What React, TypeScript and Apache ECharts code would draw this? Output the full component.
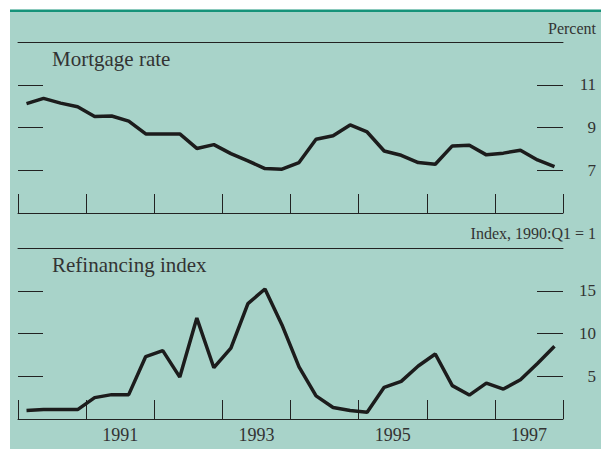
import React, { useEffect, useRef } from "react";
import * as echarts from "echarts";

const years = ["1990", "1991", "1992", "1993", "1994", "1995", "1996", "1997"];
const quarters: string[] = [];
years.forEach((y) => ["Q1", "Q2", "Q3", "Q4"].forEach((q) => quarters.push(`${y}:${q}`)));

const mortgageRate = [
  10.12, 10.36, 10.14, 9.97, 9.51, 9.54, 9.3, 8.7, 8.7, 8.7, 8.02, 8.2, 7.78, 7.44, 7.08, 7.05,
  7.36, 8.45, 8.61, 9.12, 8.79, 7.9, 7.7, 7.36, 7.28, 8.14, 8.17, 7.72, 7.8, 7.94, 7.48, 7.17,
];
const refiIndex = [
  1.0, 1.1, 1.1, 1.1, 2.5, 2.85, 2.85, 7.3, 8.0, 4.9, 11.8, 6.0, 8.3, 13.5, 15.2, 11.0,
  6.1, 2.7, 1.35, 1.0, 0.8, 3.7, 4.4, 6.2, 7.6, 3.9, 2.8, 4.2, 3.5, 4.6, 6.5, 8.5,
];
const rateTicks = [7, 9, 11];
const refiTicks = [5, 10, 15];
const yearLabelYears = ["1991", "1993", "1995", "1997"];

const FONT = "Liberation Serif";
const BG = "#a8d3c9";
const INK = "#222";

export default function App() {
  const ref = useRef<HTMLDivElement>(null);
  useEffect(() => {
    document.body.style.margin = "0";
    const chart = echarts.init(ref.current!, null, { renderer: "svg" });
    const nQ = quarters.length;
    const yearTickPos: number[] = [];
    for (let i = 0; i <= nQ; i += 4) yearTickPos.push(i);
    const labelPos = yearLabelYears.map((y) => quarters.indexOf(`${y}:Q1`) + 2);

    const bottomX = (gridIndex: number, showLabels: boolean) => ({
      type: "value",
      gridIndex,
      min: 0,
      max: nQ,
      position: "bottom",
      axisLine: { show: true, onZero: false, lineStyle: { color: INK, width: 1 } },
      axisTick: {
        show: true,
        inside: true,
        length: 19,
        customValues: yearTickPos,
        lineStyle: { color: INK, width: 1 },
      },
      axisLabel: showLabels
        ? {
            show: true,
            customValues: labelPos,
            formatter: (v: number) => years[Math.floor(v / 4)],
            fontFamily: FONT,
            fontSize: 18,
            color: "#333",
            margin: 7,
          }
        : { show: false },
      splitLine: { show: false },
    });
    const topX = (gridIndex: number) => ({
      type: "value",
      gridIndex,
      min: 0,
      max: nQ,
      position: "top",
      axisLine: { show: true, onZero: false, lineStyle: { color: INK, width: 1 } },
      axisTick: { show: false },
      axisLabel: { show: false },
      splitLine: { show: false },
    });
    const rightY = (gridIndex: number, min: number, max: number, ticks: number[]) => ({
      type: "value",
      gridIndex,
      min,
      max,
      position: "right",
      axisLine: { show: false, onZero: false },
      axisTick: {
        show: true,
        inside: true,
        length: 26,
        customValues: ticks,
        lineStyle: { color: INK, width: 1 },
      },
      axisLabel: {
        show: true,
        customValues: ticks,
        align: "right",
        margin: 33,
        fontFamily: FONT,
        fontSize: 17,
        color: "#333",
      },
      splitLine: { show: false },
    });
    const leftY = (gridIndex: number, min: number, max: number, ticks: number[]) => ({
      type: "value",
      gridIndex,
      min,
      max,
      position: "left",
      axisLine: { show: false, onZero: false },
      axisTick: {
        show: true,
        inside: true,
        length: 25,
        customValues: ticks,
        lineStyle: { color: INK, width: 1 },
      },
      axisLabel: { show: false },
      splitLine: { show: false },
    });

    const lineStyle = { color: "#1c1c1c", width: 3.5 };
    const titleText = (text: string, top: number, opts: any) => ({
      text,
      top,
      ...opts,
      padding: 0,
      textStyle: { fontFamily: FONT, fontWeight: "normal", color: "#333", ...(opts.textStyle || {}) },
    });

    chart.setOption({
      animation: false,
      graphic: [
        { type: "rect", z: -100, shape: { x: 10, y: 10, width: 591, height: 439 }, style: { fill: BG } },
        { type: "rect", z: -99, shape: { x: 10, y: 9.5, width: 591, height: 2.5 }, style: { fill: "#16937a" } },
      ],
      title: [
        titleText("Percent", 20, { right: 5, textStyle: { fontSize: 16 } }),
        titleText("Mortgage rate", 48, { left: 52, textStyle: { fontSize: 21 } }),
        titleText("Index, 1990:Q1 = 1", 225, { right: 5, textStyle: { fontSize: 16 } }),
        titleText("Refinancing index", 254, { left: 52, textStyle: { fontSize: 21 } }),
      ],
      grid: [
        { left: 18, right: 38, top: 42, height: 171 },
        { left: 18, right: 38, top: 248, height: 171 },
      ],
      xAxis: [bottomX(0, false), topX(0), bottomX(1, true), topX(1)],
      yAxis: [
        rightY(0, 5, 13, rateTicks),
        leftY(0, 5, 13, rateTicks),
        rightY(1, 0, 20, refiTicks),
        leftY(1, 0, 20, refiTicks),
      ],
      series: [
        {
          name: "Mortgage rate",
          type: "line",
          xAxisIndex: 0,
          yAxisIndex: 0,
          showSymbol: false,
          lineStyle,
          data: mortgageRate.map((v, i) => [i + 0.5, v]),
        },
        {
          name: "Refinancing index",
          type: "line",
          xAxisIndex: 2,
          yAxisIndex: 2,
          showSymbol: false,
          lineStyle,
          data: refiIndex.map((v, i) => [i + 0.5, v]),
        },
      ],
    });
    return () => chart.dispose();
  }, []);
  return <div ref={ref} style={{ width: 601, height: 449, position: "absolute", left: 0, top: 0 }} />;
}
